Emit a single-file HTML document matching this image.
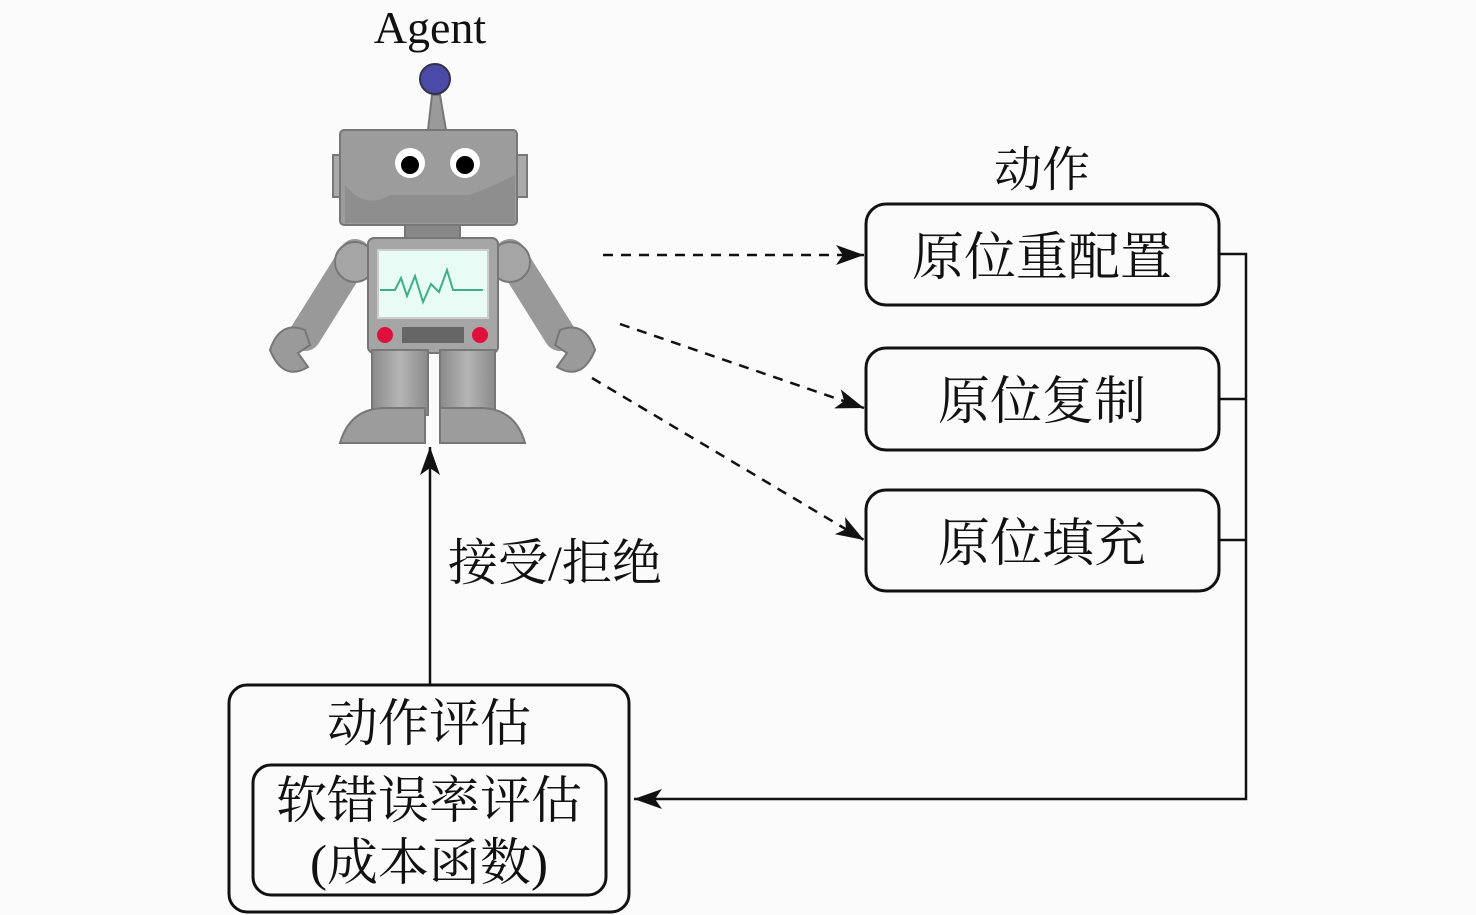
<!DOCTYPE html>
<html><head><meta charset="utf-8"><style>
html,body{margin:0;padding:0;background:#fbfbfb;}
svg{display:block}
text{font-family:"Liberation Serif","Noto Serif CJK SC",serif;fill:#111;}
</style></head><body>
<svg width="1476" height="915" viewBox="0 0 1476 915" xmlns="http://www.w3.org/2000/svg">
<defs>
<marker id="ah" markerWidth="30" markerHeight="20" refX="28" refY="10" orient="auto" markerUnits="userSpaceOnUse">
<path d="M0,0 L28,10 L0,20 L7,10 Z" fill="#111"/>
</marker>
<linearGradient id="g1" x1="0" y1="0" x2="1" y2="0"><stop offset="0" stop-color="#8a8a8a"/><stop offset="0.5" stop-color="#b5b5b5"/><stop offset="1" stop-color="#8a8a8a"/></linearGradient>
</defs>

<text x="430" y="43" font-size="46" text-anchor="middle">Agent</text>

<!-- robot -->
<g stroke="#777" stroke-width="2">
<path d="M428,130 L432,95 L440,95 L446,130 Z" fill="#9a9a9a"/>
<circle cx="435" cy="79" r="15" fill="#4a4aa8" stroke="#334"/>
<rect x="333" y="155" width="14" height="42" fill="#aaa"/>
<rect x="512" y="155" width="15" height="42" fill="#aaa"/>
<rect x="340" y="130" width="177" height="95" rx="4" fill="#9c9c9c"/>
<rect x="405" y="225" width="55" height="16" fill="#888"/>
<path d="M355,255 L305,335 M510,255 L560,335" stroke="#999" stroke-width="32" stroke-linecap="round" fill="none"/>
<circle cx="355" cy="262" r="20" fill="#a5a5a5"/><circle cx="510" cy="262" r="20" fill="#a5a5a5"/>
<path d="M270,350 q10,-30 35,-20 l5,15 -12,8 10,14 q-25,15 -38,-17Z" fill="#9a9a9a"/>
<path d="M595,350 q-10,-30 -35,-20 l-5,15 12,8 -10,14 q25,15 38,-17Z" fill="#9a9a9a"/>
<rect x="368" y="238" width="130" height="115" rx="6" fill="#a5a5a5"/>
<rect x="378" y="250" width="110" height="68" fill="#e8fbf5" stroke="#ccc"/>
<rect x="372" y="350" width="56" height="65" fill="url(#g1)"/>
<rect x="440" y="350" width="55" height="65" fill="url(#g1)"/>
<path d="M340,443 q10,-35 45,-35 h40 v35Z" fill="#9c9c9c"/>
<path d="M525,443 q-10,-35 -45,-35 h-40 v35Z" fill="#9c9c9c"/>
</g>
<path d="M380,290 h15 l6,-12 6,18 8,-20 8,26 8,-18 8,8 8,-22 6,20 h30" stroke="#3cb08a" stroke-width="2" fill="none"/>
<circle cx="410" cy="163" r="15" fill="#fff"/><circle cx="410" cy="165" r="9" fill="#000"/>
<circle cx="465" cy="163" r="15" fill="#fff"/><circle cx="465" cy="165" r="9" fill="#000"/>
<path d="M345,185 q20,25 45,10 h80 q25,-10 45,-20 v48 h-170Z" fill="#8e8e8e"/>
<circle cx="385" cy="335" r="8" fill="#e0103c"/><circle cx="480" cy="335" r="8" fill="#e0103c"/>
<rect x="402" y="327" width="62" height="16" fill="#666"/>

<!-- dashed arrows -->
<g stroke="#111" stroke-width="2.5" stroke-dasharray="10,8" fill="none">
<line x1="603" y1="255" x2="864" y2="255" marker-end="url(#ah)"/>
<line x1="620" y1="324" x2="864" y2="408" marker-end="url(#ah)"/>
<line x1="592" y1="378" x2="864" y2="540" marker-end="url(#ah)"/>
</g>

<text x="1042" y="186" font-size="48" text-anchor="middle">动作</text>
<g fill="none" stroke="#111" stroke-width="3">
<rect x="866" y="204" width="353" height="101" rx="20"/>
<rect x="866" y="348" width="353" height="102" rx="20"/>
<rect x="866" y="490" width="353" height="101" rx="20"/>
<path d="M1219,254 H1246 V799 H634" stroke-width="2.5" marker-end="url(#ah)"/>
<path d="M1219,399 H1246 M1219,540 H1246" stroke-width="2.5"/>
<line x1="430" y1="685" x2="430" y2="447" stroke-width="2.5" marker-end="url(#ah)"/>
<rect x="229" y="685" width="400" height="227" rx="18"/>
<rect x="253" y="765" width="353" height="130" rx="18"/>
</g>
<text x="1042" y="275" font-size="52" text-anchor="middle">原位重配置</text>
<text x="1042" y="419" font-size="52" text-anchor="middle">原位复制</text>
<text x="1042" y="561" font-size="52" text-anchor="middle">原位填充</text>
<text x="448" y="580" font-size="50">接受/拒绝</text>
<text x="429" y="741" font-size="51" text-anchor="middle">动作评估</text>
<text x="429" y="818" font-size="51" text-anchor="middle">软错误率评估</text>
<text x="429" y="880" font-size="51" text-anchor="middle">(成本函数)</text>
</svg>
</body></html>
